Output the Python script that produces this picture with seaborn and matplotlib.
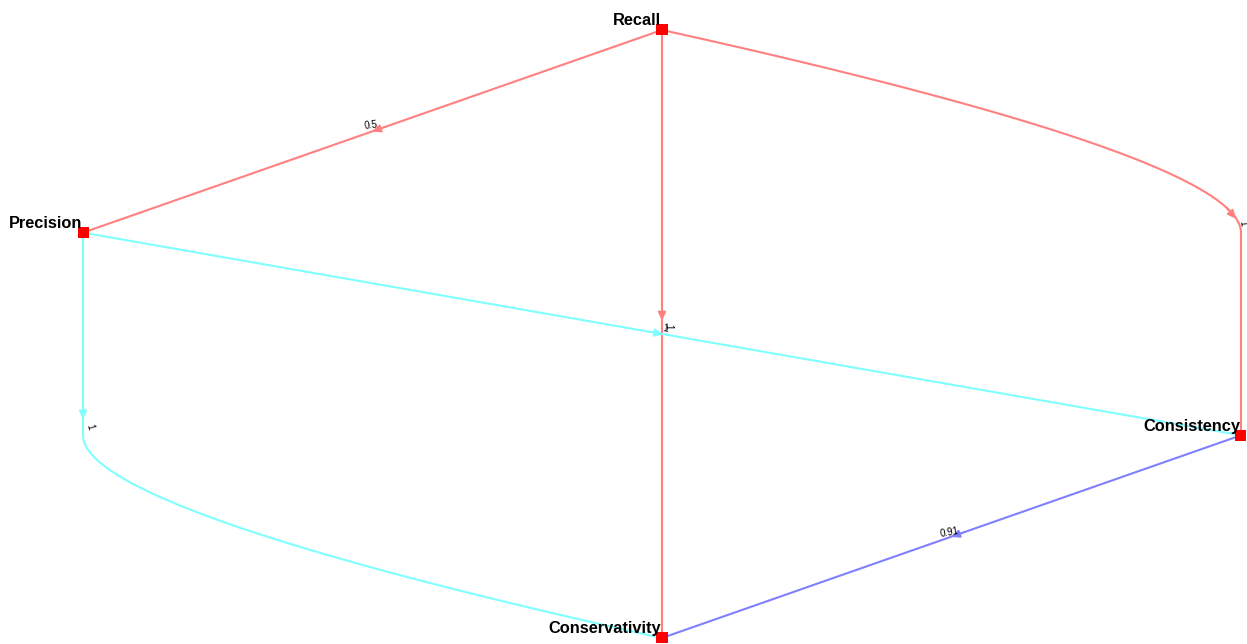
import numpy as np
import pandas as pd
import seaborn as sns
import matplotlib.pyplot as plt

# nodes and their layout
nodes = ['Recall', 'Precision', 'Consistency', 'Conservativity']
node_x = [0.5, 0.0, 1.0, 0.5]
node_y = [1.0, 2 / 3, 1 / 3, 0.0]

# directed weighted edges
edge_from = ['Recall', 'Recall', 'Recall', 'Precision', 'Precision', 'Consistency']
edge_to = ['Precision', 'Conservativity', 'Consistency', 'Consistency', 'Conservativity', 'Conservativity']
edge_weight = [0.5, 1, 1, 1, 1, 0.91]

# style
group_color = {'Recall': '#ff8080', 'Precision': '#80ffff', 'Consistency': '#8080ff'}
edge_route = ['straight', 'straight', 'curve_first', 'straight', 'line_first', 'straight']
arrow_shift = [0, -14, 0, 0, 0, 0]
label_rot = [7, -90, -80, -10, -75, 10]
label_off = [(-1, 4.7), (4.3, -4.3), (4.5, -3), (1.5, 4.3), (5, -5), (-1, 3)]

sns.set_theme(style='white')
plt.rcParams['font.family'] = ['Liberation Sans', 'DejaVu Sans']

df_nodes = pd.DataFrame({'name': nodes, 'x': node_x, 'y': node_y})
pos = {n: np.array([x, y]) for n, x, y in zip(nodes, node_x, node_y)}

fig = plt.figure(figsize=(12.47, 6.44), dpi=100)
ax = fig.add_axes([0, 0, 1, 1])
ax.set_xlim(-0.0717, 1.0052)
ax.set_ylim(-0.0099, 1.0493)
ax.axis('off')


def bezier(p0, c, p1, n=80):
    t = np.linspace(0, 1, n)[:, None]
    return (1 - t) ** 2 * p0 + 2 * t * (1 - t) * c + t ** 2 * p1


def line(p0, p1, n=40):
    t = np.linspace(0, 1, n)[:, None]
    return (1 - t) * p0 + t * p1


for a, b, w, route, shift, rot, off in zip(edge_from, edge_to, edge_weight, edge_route,
                                            arrow_shift, label_rot, label_off):
    p0, p1 = pos[a], pos[b]
    col = group_color[a]
    if route == 'curve_first':
        k = np.array([p1[0], (p0[1] + p1[1]) / 2])
        c = np.array([p1[0], k[1] + 0.37 * (p0[1] - k[1])])
        first = bezier(p0, c, k)
        pts = np.vstack([first, line(k, p1)[1:]])
    elif route == 'line_first':
        k = np.array([p0[0], (p0[1] + p1[1]) / 2])
        c = np.array([p0[0], k[1] - 0.37 * (k[1] - p1[1])])
        first = line(p0, k)
        pts = np.vstack([first, bezier(k, c, p1)[1:]])
    else:
        first = None
        pts = line(p0, p1, n=400)
    ax.plot(pts[:, 0], pts[:, 1], color=col, lw=1.5, zorder=2, solid_capstyle='butt')

    # arrow head placed along the path (in pixels)
    disp = ax.transData.transform(pts)
    s = np.concatenate([[0], np.cumsum(np.hypot(*np.diff(disp, axis=0).T))])
    if first is None:
        target = s[-1] / 2 + shift
    else:
        target = s[len(first) - 1] - 17
    i = int(np.searchsorted(s, target))
    j = int(np.searchsorted(s, target - 16))
    tip, tail = pts[i], pts[max(j, 0)]
    ax.annotate('', xy=tip, xytext=tail,
                arrowprops=dict(arrowstyle='-|>,head_length=0.45,head_width=0.2',
                                color=col, lw=1.2, mutation_scale=12,
                                shrinkA=0, shrinkB=0), zorder=3)
    ax.annotate(f'{w:g}', xy=tip, xytext=off, textcoords='offset points',
                ha='center', va='center', rotation=rot, fontsize=7,
                color='black', zorder=5)

sns.scatterplot(data=df_nodes, x='x', y='y', marker='s', color='red', s=63,
                edgecolor='none', zorder=4, clip_on=False, legend=False, ax=ax)
ax.set_xlabel('')
ax.set_ylabel('')

for n, x, y in zip(nodes, node_x, node_y):
    ax.annotate(n, xy=(x, y), xytext=(-0.7, 3.4), textcoords='offset points',
                ha='right', va='baseline', fontsize=11.8, fontweight='bold',
                color='black', zorder=6)

fig.savefig('out.png', dpi=100)
